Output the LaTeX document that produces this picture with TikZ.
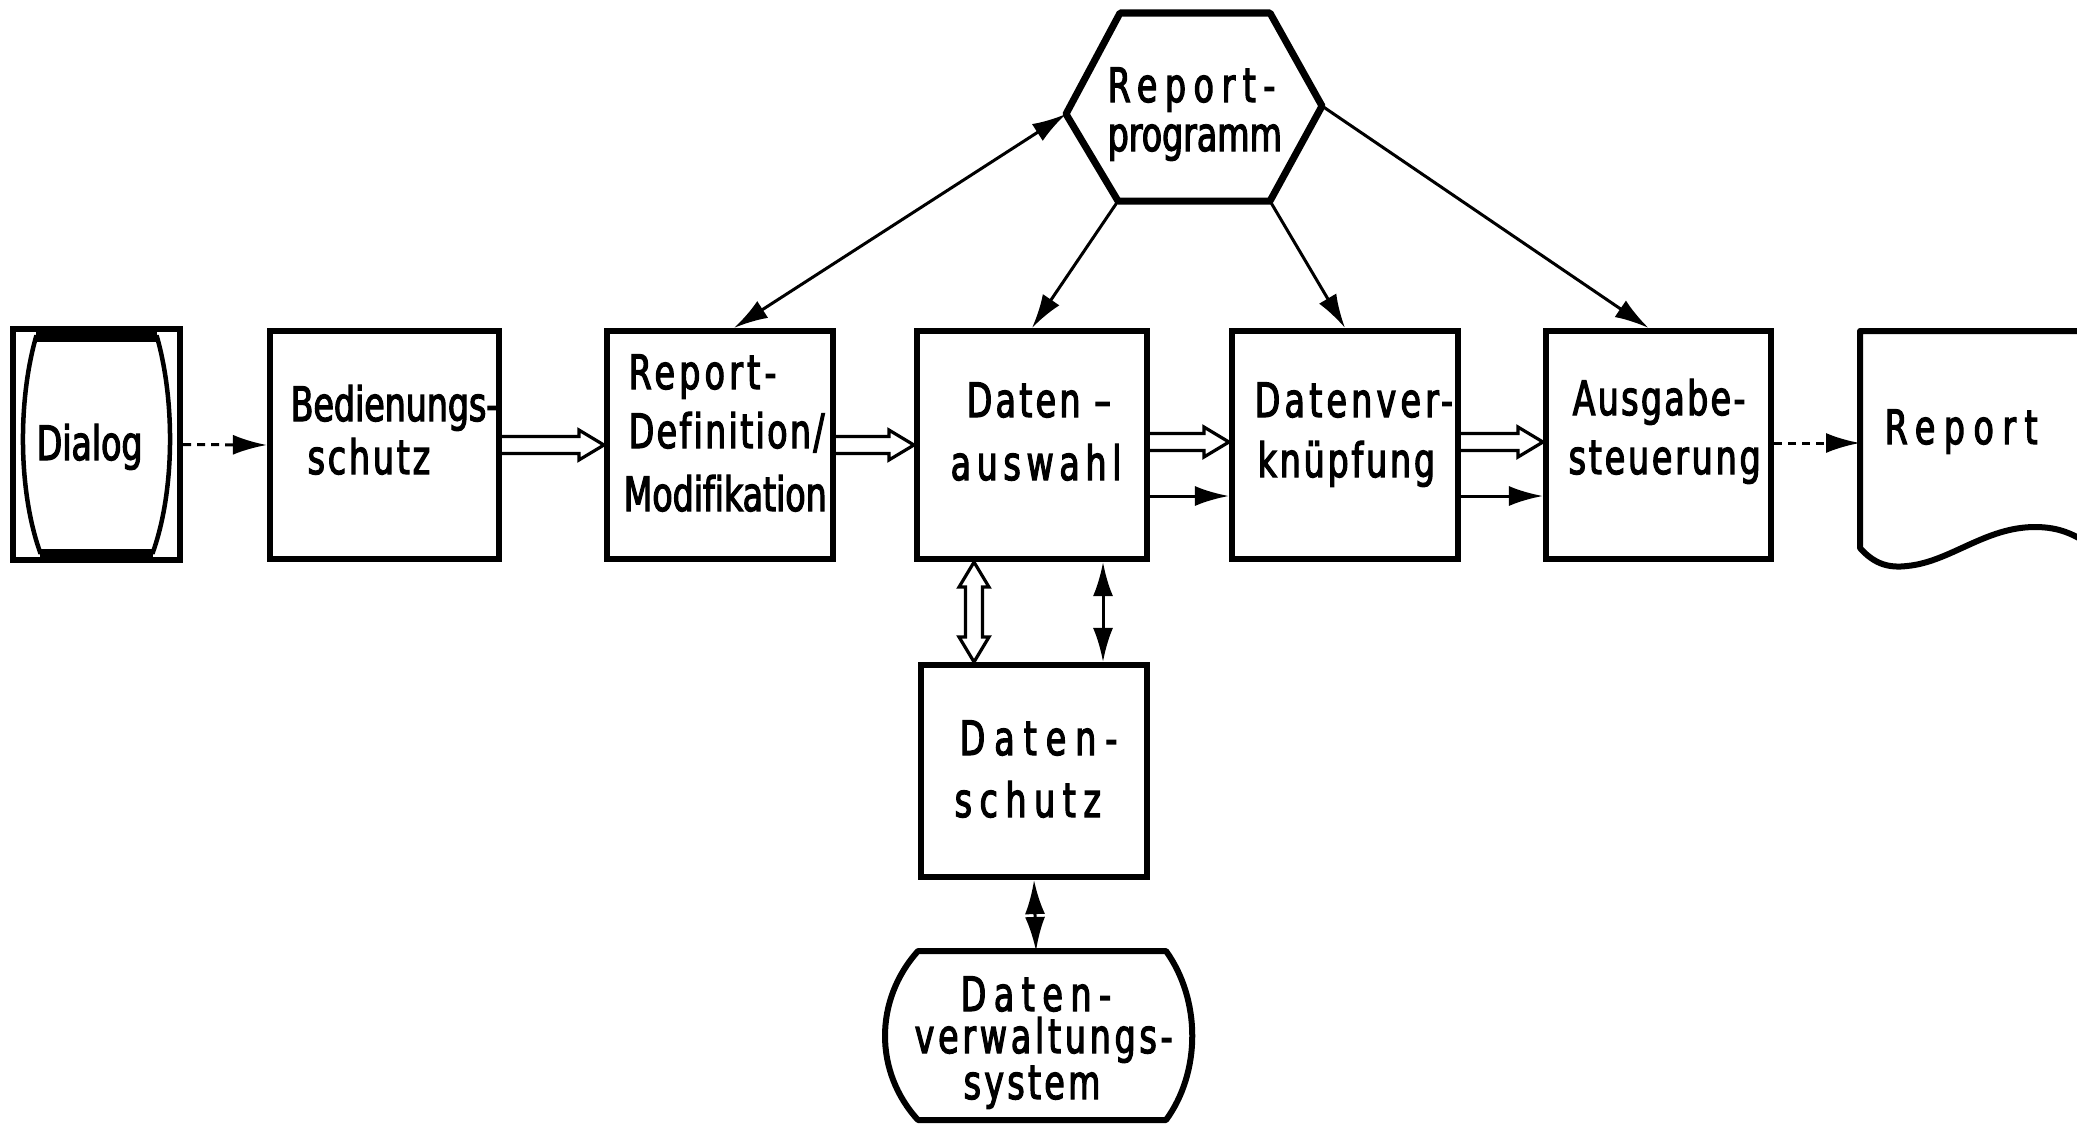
\documentclass[tikz,border=0pt]{standalone}
\usepackage{fontspec}
\usetikzlibrary{arrows.meta,calc}
\newfontfamily\din[FakeStretch=0.7,FakeBold=2.5,Ligatures=NoCommon]{DejaVu Sans}
\newcommand\lsp[2]{{\addfontfeature{LetterSpace=#1}#2}}
% hollow block arrows: shaft half width, head half width, head length
\newcommand\shw{0.085cm}
\newcommand\hhw{0.15cm}
\newcommand\hlen{0.25cm}
% one-headed hollow arrow from #1 to #2
\newcommand\hollowarrow[2]{%
  \coordinate (hA) at (#1); \coordinate (hB) at (#2);
  \coordinate (hH) at ($(hB)!\hlen!(hA)$);
  \draw[hollow] ($(hA)!\shw!90:(hB)$) -- ($(hH)!\shw!90:(hB)$) -- ($(hH)!\hhw!90:(hB)$)
    -- (hB) -- ($(hH)!\hhw!-90:(hB)$) -- ($(hH)!\shw!-90:(hB)$) -- ($(hA)!\shw!-90:(hB)$);}
% two-headed hollow arrow between #1 and #2
\newcommand\hollowbiarrow[2]{%
  \coordinate (hA) at (#1); \coordinate (hB) at (#2);
  \coordinate (hH) at ($(hB)!\hlen!(hA)$);
  \coordinate (hG) at ($(hA)!\hlen!(hB)$);
  \draw[hollow] (hA) -- ($(hG)!\hhw!90:(hB)$) -- ($(hG)!\shw!90:(hB)$)
    -- ($(hH)!\shw!90:(hB)$) -- ($(hH)!\hhw!90:(hB)$) -- (hB)
    -- ($(hH)!\hhw!-90:(hB)$) -- ($(hH)!\shw!-90:(hB)$)
    -- ($(hG)!\shw!-90:(hB)$) -- ($(hG)!\hhw!-90:(hB)$) -- cycle;}
\begin{document}
\begin{tikzpicture}[x=0.01cm,y=-0.01cm,
  box/.style={draw,line width=0.06cm,inner sep=0},
  conn/.style={line width=0.03cm,-{Latex[length=0.34cm,width=0.2cm]}},
  biconn/.style={line width=0.03cm,{Latex[length=0.34cm,width=0.2cm]}-{Latex[length=0.34cm,width=0.2cm]}},
  dashconn/.style={conn,dash pattern=on 0.08cm off 0.06cm},
  hollow/.style={line width=0.032cm,line join=miter},
  lbl/.style={inner sep=0,anchor=base west,font=\din\fontsize{13.5}{16}\selectfont},
  outline/.style={line width=0.06cm,line join=round}]
\useasboundingbox (0,0) rectangle (2077,1124);
\clip (0,0) rectangle (2077,1124);

% --- main row of blocks ---
\node[box,minimum width=1.67cm,minimum height=2.30cm] (dialog) at (96.5,444.5) {};
\node[box,minimum width=2.29cm,minimum height=2.28cm] (bed) at (384.5,445) {};
\node[box,minimum width=2.26cm,minimum height=2.28cm] (repdef) at (720,445) {};
\node[box,minimum width=2.30cm,minimum height=2.28cm] (auswahl) at (1032,445) {};
\node[box,minimum width=2.26cm,minimum height=2.28cm] (verkn) at (1345,445) {};
\node[box,minimum width=2.25cm,minimum height=2.28cm] (ausgabe) at (1658.5,445) {};
\node[box,minimum width=2.26cm,minimum height=2.12cm] (dschutz) at (1034,771) {};

% screen symbol inside the dialog block
\draw[line width=0.045cm] (36,337) .. controls (18,400) and (18,490) .. (40,552)
  -- (153,552) .. controls (175,490) and (175,400) .. (157,337) -- cycle;
\draw[line width=0.11cm] (36,336) -- (157,336);
\draw[line width=0.11cm] (40,554) -- (153,554);

% report document with wavy lower edge
\draw[outline] (2090,331) -- (1860,331) -- (1860,548)
  .. controls (1875,565) and (1890,568) .. (1907,566)
  .. controls (1950,562) and (1985,527) .. (2035,527)
  .. controls (2060,527) and (2075,535) .. (2090,545);
\coordinate (doc) at (1860,443);

% report program (hexagon)
\draw[line width=0.07cm,line join=round] (1120,13) -- (1270,13) -- (1322,106)
  -- (1270,201) -- (1118,201) -- (1066,114) -- cycle;
\coordinate (hexL) at (1066,114);
\coordinate (hexR) at (1322,106);
\coordinate (hexBL) at (1118,201);
\coordinate (hexBR) at (1270,201);

% data management system
\draw[outline] (918,951) -- (1166,951) .. controls (1201,1000) and (1201,1072) .. (1166,1120)
  -- (918,1120) .. controls (874,1072) and (874,1000) .. (918,951) -- cycle;
\coordinate (dvs) at (1036,951);

% --- labels ---
\node[lbl] (tDialog) at (36,460) {\lsp{0}{Dialog}};
\node[lbl] (tBed1) at (290,421) {\lsp{0}{Bedienungs-}};
\node[lbl] (tBed2) at (307,474) {\lsp{6}{schutz}};
\node[lbl] (tRd1) at (628,389) {\lsp{9}{Report-}};
\node[lbl] (tRd2) at (628,448) {\lsp{5}{Definition/}};
\node[lbl] (tRd3) at (623,511) {\lsp{0}{Modifikation}};
\node[lbl] (tAw1) at (966,417) {\lsp{7}{Daten –}};
\node[lbl] (tAw2) at (950,480) {\lsp{12}{auswahl}};
\node[lbl] (tVk1) at (1254,417) {\lsp{9}{Datenver-}};
\node[lbl] (tVk2) at (1257,477) {\lsp{6}{knüpfung}};
\node[lbl] (tAs1) at (1572,415) {\lsp{5}{Ausgabe-}};
\node[lbl] (tAs2) at (1568,474) {\lsp{6}{steuerung}};
\node[lbl] (tRep) at (1884,444) {\lsp{18}{Report}};
\node[lbl] (tHex1) at (1107,102) {\lsp{16}{Report-}};
\node[lbl] (tHex2) at (1107,151) {\lsp{0}{programm}};
\node[lbl] (tDs1) at (959,755) {\lsp{19}{Daten-}};
\node[lbl] (tDs2) at (954,817) {\lsp{16}{schutz}};
\node[lbl] (tDv1) at (960,1011) {\lsp{16}{Daten-}};
\node[lbl] (tDv2) at (914,1053) {\lsp{8}{verwaltungs-}};
\node[lbl] (tDv3) at (963,1099) {\lsp{7}{system}};

% --- connectors ---
\draw[dashconn] (dialog.east) -- (bed.west);
\hollowarrow{bed.east}{repdef.west}
\hollowarrow{repdef.east}{auswahl.west}
\hollowarrow{$(auswahl.east)+(0,-3)$}{$(verkn.west)+(0,-3)$}
\draw[conn] ($(auswahl.east)+(0,51)$) -- ($(verkn.west)+(0,51)$);
\hollowarrow{$(verkn.east)+(0,-3)$}{$(ausgabe.west)+(0,-3)$}
\draw[conn] ($(verkn.east)+(0,51)$) -- ($(ausgabe.west)+(0,51)$);
\draw[dashconn] ($(ausgabe.east)+(0,-2)$) -- (doc);

\draw[biconn] (hexL) -- ($(repdef.north)+(14,0)$);
\draw[conn] (hexBL) -- (auswahl.north);
\draw[conn] (hexBR) -- (verkn.north);
\draw[conn] (hexR) -- ($(ausgabe.north)+(-10,0)$);

\coordinate (va) at ($(auswahl.south)+(-58,0)$);
\coordinate (vb) at ($(auswahl.south)+(71,0)$);
\hollowbiarrow{va}{va |- dschutz.north}
\draw[biconn] (vb) -- (vb |- dschutz.north);
\draw[biconn] (dschutz.south) -- (dvs);
\end{tikzpicture}
\end{document}
